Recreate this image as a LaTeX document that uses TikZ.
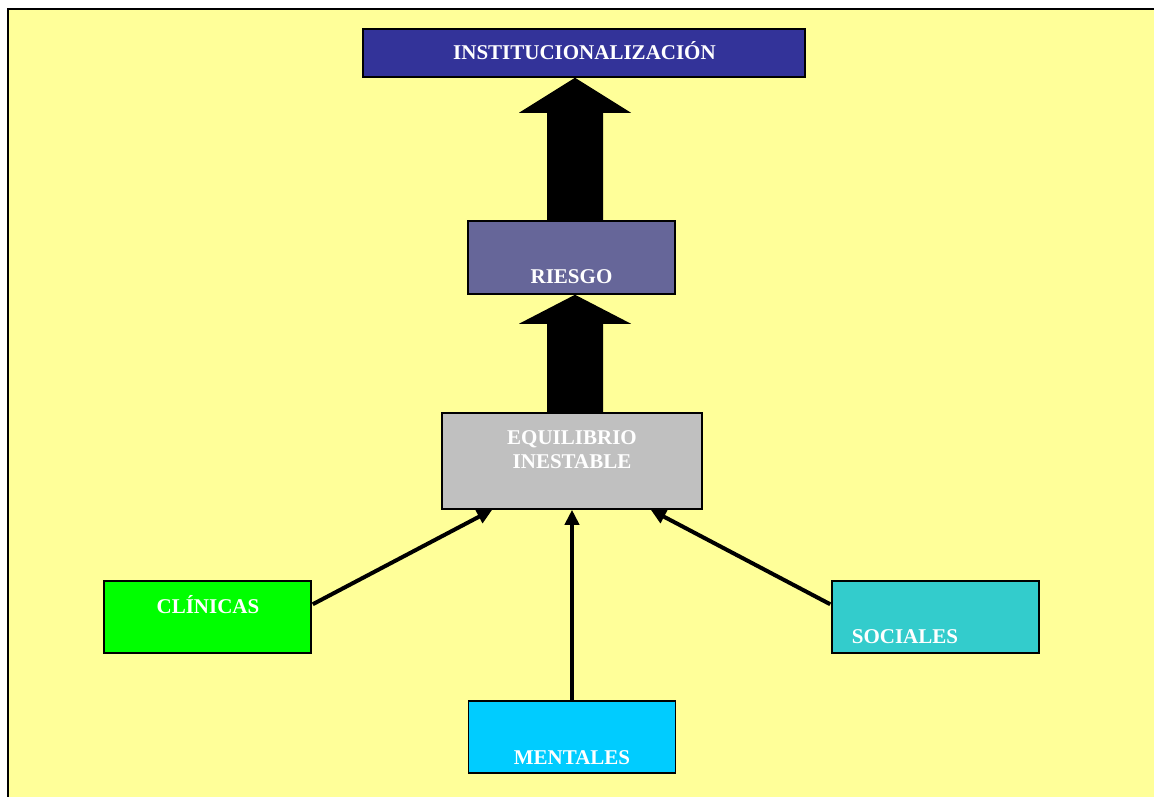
\documentclass[tikz,border=0pt]{standalone}
\usepackage{fontspec}
\setmainfont{Liberation Serif}
\usetikzlibrary{calc,arrows.meta}
\definecolor{bgyellow}{HTML}{FFFF99}
\definecolor{instc}{HTML}{333399}
\definecolor{riesgoc}{HTML}{666699}
\definecolor{eqc}{HTML}{C0C0C0}
\definecolor{clinc}{HTML}{00FF00}
\definecolor{socc}{HTML}{33CCCC}
\definecolor{mentc}{HTML}{00CCFF}
\pgfdeclarelayer{bg}
\pgfsetlayers{bg,main}
\tikzset{
  box/.style={draw=black, line width=1.5pt, inner sep=0pt, rectangle},
  lbl/.style={text=white, font=\fontsize{21}{25}\selectfont\bfseries, inner sep=0pt, anchor=base},
  thin/.style={line width=4pt, -{Triangle[length=15pt,width=14pt]}},
  bigarrow/.style={fill=black}
}
\begin{document}
\begin{tikzpicture}[x=1pt,y=-1pt]
\useasboundingbox (0,0) rectangle (1154,796);
% boxes
\node[box, fill=instc, minimum width=442pt, minimum height=48pt] (inst) at (584,53) {};
\node[box, fill=riesgoc, minimum width=207pt, minimum height=73pt] (riesgo) at (571.5,257.5) {};
\node[box, fill=eqc, minimum width=260pt, minimum height=96pt] (eq) at (572,461) {};
\node[box, fill=clinc, minimum width=207pt, minimum height=72pt] (clin) at (207.5,617) {};
\node[box, fill=socc, minimum width=207pt, minimum height=72pt] (soc) at (935.5,617) {};
\node[box, fill=mentc, minimum width=207pt, minimum height=72pt] (ment) at (572,737) {};
% labels
\node[lbl] (tinst) at (584.5,59.5) {INSTITUCIONALIZACIÓN};
\node[lbl] (triesgo) at (571.5,283.5) {RIESGO};
\node[lbl] (teqa) at (572,444) {EQUILIBRIO};
\node[lbl] (teqb) at (572,468.5) {INESTABLE};
\node[lbl] (tclin) at (208,613) {CLÍNICAS};
\node[lbl] (tsoc) at (905,643) {SOCIALES};
\node[lbl] (tment) at (572,764) {MENTALES};
% background frame and big arrows
\begin{pgfonlayer}{bg}
\fill[white] (0,0) rectangle (1154,796);
\draw[fill=bgyellow, draw=black, line width=2pt] (7.5,9.2) rectangle (1175,815);
\fill[bigarrow] let \p1=(inst.south), \p2=(riesgo.north) in
  (575pt,\y1) -- (631pt,{\y1-35pt}) -- (603pt,{\y1-35pt}) -- (603pt,{\y2-2pt})
  -- (547pt,{\y2-2pt}) -- (547pt,{\y1-35pt}) -- (519pt,{\y1-35pt}) -- cycle;
\fill[bigarrow] let \p1=(riesgo.south), \p2=(eq.north) in
  (575pt,\y1) -- (631pt,{\y1-29pt}) -- (603pt,{\y1-29pt}) -- (603pt,{\y2-2pt})
  -- (547pt,{\y2-2pt}) -- (547pt,{\y1-29pt}) -- (519pt,{\y1-29pt}) -- cycle;
\end{pgfonlayer}
% thin connectors
\draw[thin] ($(clin.north east)+(1,24)$) -- ($(eq.south west)+(51,0)$);
\draw[thin] ($(soc.north west)+(-1,24)$) -- ($(eq.south east)+(-52,0)$);
\draw[thin] (ment.north) -- (ment.north |- eq.south);
\end{tikzpicture}
\end{document}
